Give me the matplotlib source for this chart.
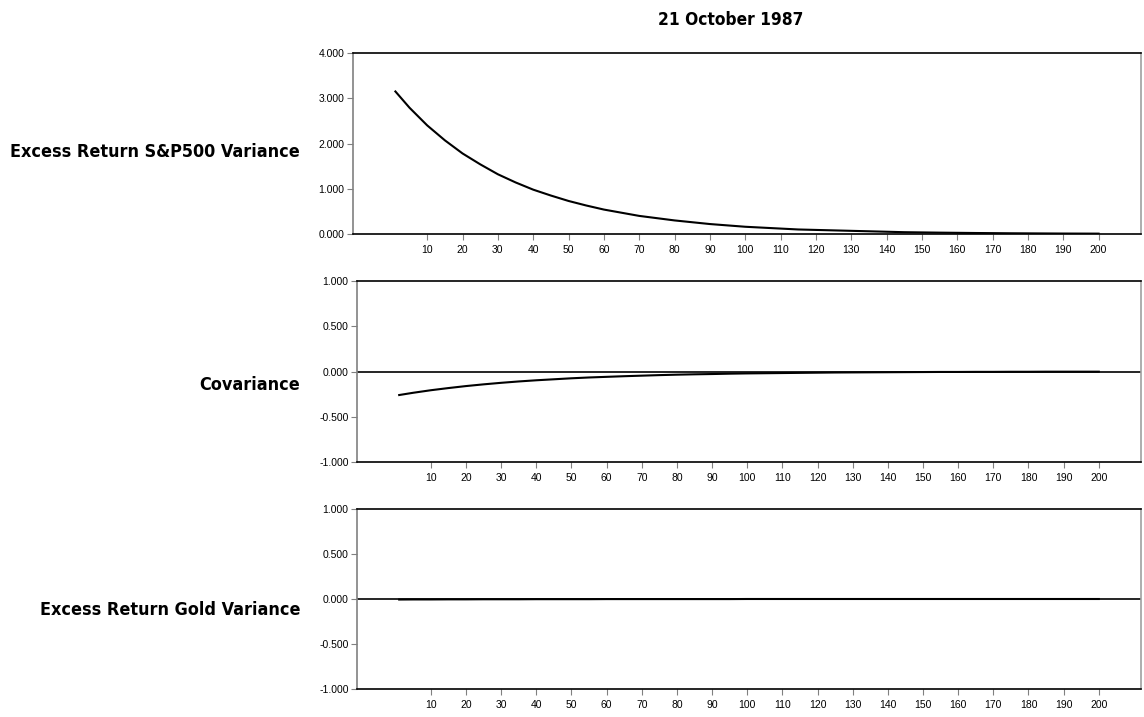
import numpy as np
import matplotlib
matplotlib.use("Agg")
import matplotlib.pyplot as plt
from matplotlib.ticker import FormatStrFormatter

plt.rcParams['font.family'] = ['Liberation Sans', 'DejaVu Sans']

# horizon steps (every 5 periods)
steps = [1, 5, 10, 15, 20, 25, 30, 35, 40, 45, 50, 55, 60, 65, 70, 75, 80,
         85, 90, 95, 100, 105, 110, 115, 120, 125, 130, 135, 140, 145, 150,
         155, 160, 165, 170, 175, 180, 185, 190, 195, 200]

sp500_var = [3.15, 2.79, 2.40, 2.07, 1.78, 1.54, 1.32, 1.14, 0.98, 0.85, 0.73,
             0.63, 0.54, 0.47, 0.40, 0.35, 0.30, 0.26, 0.22, 0.19, 0.16, 0.14,
             0.12, 0.10, 0.09, 0.08, 0.07, 0.06, 0.05, 0.04, 0.035, 0.03,
             0.026, 0.022, 0.019, 0.016, 0.014, 0.012, 0.010, 0.009, 0.008]

covar = [-0.26, -0.235, -0.207, -0.183, -0.161, -0.142, -0.125, -0.110,
         -0.097, -0.086, -0.075, -0.066, -0.059, -0.052, -0.046, -0.040,
         -0.035, -0.031, -0.028, -0.024, -0.021, -0.019, -0.017, -0.015,
         -0.013, -0.011, -0.010, -0.009, -0.008, -0.007, -0.006, -0.005,
         -0.005, -0.004, -0.004, -0.003, -0.003, -0.002, -0.002, -0.002, -0.002]

gold_var = [-0.006, -0.005, -0.005, -0.004, -0.004, -0.003, -0.003, -0.003,
            -0.002, -0.002, -0.002, -0.002, -0.001, -0.001, -0.001, -0.001,
            -0.001, -0.001, -0.001, -0.001, 0.0, 0.0, 0.0, 0.0, 0.0, 0.0, 0.0,
            0.0, 0.0, 0.0, 0.0, 0.0, 0.0, 0.0, 0.0, 0.0, 0.0, 0.0, 0.0, 0.0, 0.0]

xticks = list(range(10, 201, 10))
labels = ["Excess Return S&P500 Variance", "Covariance", "Excess Return Gold Variance"]
series = [sp500_var, covar, gold_var]
ylims = [(0, 4), (-1, 1), (-1, 1)]
yticks = [[0, 1, 2, 3, 4], [-1, -0.5, 0, 0.5, 1], [-1, -0.5, 0, 0.5, 1]]

# axes boxes in pixels: left, top, right, bottom
boxes = [(353, 53, 1141, 234), (357, 281, 1141, 462), (357, 509, 1141, 689)]
label_y = [152, 385, 610]

W, H = 1144, 717
fig = plt.figure(figsize=(W / 100, H / 100), dpi=100)

for i in range(3):
    l, t, r, b = boxes[i]
    ax = fig.add_axes([l / W, 1 - b / H, (r - l) / W, (b - t) / H])
    if i > 0:
        ax.axhline(0, color='black', lw=1.2, zorder=1)
    ax.plot(steps, series[i], color='black', lw=1.5, zorder=2)
    ax.set_xlim(-11, 212)
    ax.set_ylim(*ylims[i])
    ax.set_xticks(xticks)
    ax.set_yticks(yticks[i])
    ax.yaxis.set_major_formatter(FormatStrFormatter('%.3f'))
    ax.tick_params(axis='both', labelsize=7.5, length=4, direction='out', width=0.8)
    ax.tick_params(axis='y', colors='#808080', labelcolor='black', pad=2)
    ax.tick_params(axis='x', colors='#808080', labelcolor='black', pad=4)
    ax.spines['left'].set_color('#808080')
    ax.spines['right'].set_color('#a0a0a0')
    ax.spines['top'].set_color('black')
    ax.spines['bottom'].set_color('black')
    for s in ax.spines.values():
        s.set_linewidth(1.2)
    fig.text(300 / W, 1 - label_y[i] / H, labels[i], ha='right', va='center',
             fontsize=12.9, fontweight='bold',
             family=['DejaVu Sans'], fontstretch='condensed')

fig.text(731 / W, 1 - 20 / H, "21 October 1987", ha='center', va='center',
         fontsize=12.4, fontweight='bold',
         family=['DejaVu Sans'], fontstretch='condensed')

fig.savefig("out.png", dpi=100)
